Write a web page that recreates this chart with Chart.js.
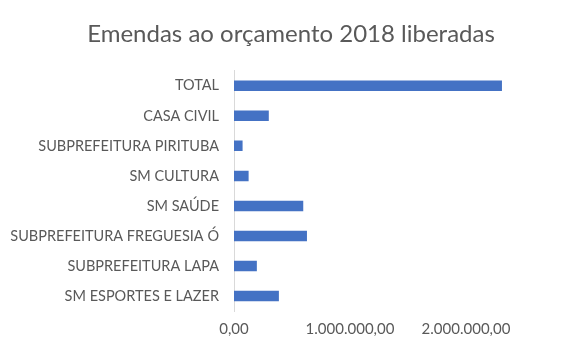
<!DOCTYPE html>
<html>
<head>
<meta charset="utf-8">
<script src="https://cdn.jsdelivr.net/npm/chart.js@4"></script>
<style>
  html, body { margin: 0; padding: 0; background: #fff; }
  #wrap { width: 582px; height: 346px; position: relative; }
</style>
</head>
<body>
<div id="wrap"><canvas id="chart"></canvas></div>
<script>
const categories = [
  'TOTAL',
  'CASA CIVIL',
  'SUBPREFEITURA PIRITUBA',
  'SM CULTURA',
  'SM SAÚDE',
  'SUBPREFEITURA FREGUESIA Ó',
  'SUBPREFEITURA LAPA',
  'SM ESPORTES E LAZER'
];
const values = [2310000, 300000, 74000, 126000, 597000, 629000, 197000, 387000];
const tickValues = [0, 1000000, 2000000];

const fmt = (v) => v.toLocaleString('de-DE', { minimumFractionDigits: 2, maximumFractionDigits: 2 });
const textColor = '#595959';
const fontFamily = 'Lato, "Open Sans", sans-serif';

new Chart(document.getElementById('chart').getContext('2d'), {
  type: 'bar',
  data: {
    labels: categories,
    datasets: [{ data: values, backgroundColor: '#4472C4', barPercentage: 0.7, categoryPercentage: 0.5 }]
  },
  options: {
    indexAxis: 'y',
    responsive: true,
    maintainAspectRatio: false,
    animation: false,
    layout: { padding: { left: 0, right: 0, top: 16, bottom: 7 } },
    plugins: {
      legend: { display: false },
      tooltip: { enabled: false },
      title: {
        display: true,
        text: 'Emendas ao orçamento 2018 liberadas',
        color: textColor,
        font: { family: fontFamily, size: 24, weight: 'normal' },
        padding: { top: 4, bottom: 22 }
      }
    },
    scales: {
      x: {
        min: 0,
        max: 3000000,
        afterBuildTicks: (scale) => { scale.ticks = tickValues.map(v => ({ value: v })); },
        grid: { display: false },
        border: { display: false },
        ticks: {
          color: textColor,
          font: { family: fontFamily, size: 15 },
          padding: 1,
          maxRotation: 0,
          callback: (v) => fmt(v)
        }
      },
      y: {
        grid: { display: false },
        border: { display: true, color: '#d9d9d9' },
        afterFit: (scale) => { scale.width = 234; },
        ticks: {
          color: textColor,
          font: { family: fontFamily, size: 14.5 },
          padding: 7
        }
      }
    }
  }
});
</script>
</body>
</html>
